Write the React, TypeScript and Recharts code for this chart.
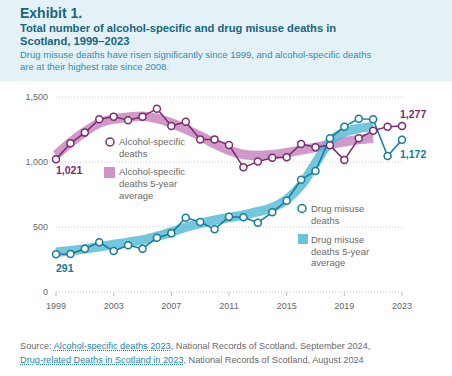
import { LineChart, Line, XAxis, YAxis, CartesianGrid } from "recharts";

const years = [
  1999, 2000, 2001, 2002, 2003, 2004, 2005, 2006, 2007, 2008, 2009, 2010, 2011,
  2012, 2013, 2014, 2015, 2016, 2017, 2018, 2019, 2020, 2021, 2022, 2023,
];
const alcoholDeaths = [
  1021, 1144, 1226, 1328, 1349, 1321, 1349, 1410, 1277, 1310, 1174, 1174, 1131,
  959, 1003, 1033, 1036, 1138, 1113, 1128, 1015, 1182, 1241, 1272, 1277,
];
const drugDeaths = [
  291, 292, 333, 382, 315, 359, 333, 418, 451, 572, 538, 482, 578, 575, 533,
  613, 702, 864, 930, 1182, 1272, 1333, 1328, 1046, 1172,
];
// 5-year averages, read off the band centre (no value for 2022-23)
const alcoholAvg = [
  1054, 1150, 1233, 1300, 1330, 1345, 1352, 1335, 1300, 1252, 1200, 1140, 1090,
  1058, 1050, 1056, 1072, 1092, 1113, 1135, 1156, 1172, 1182, null, null,
];
const drugAvg = [
  305, 318, 332, 348, 366, 382, 400, 428, 462, 498, 528, 552, 572, 592, 618,
  650, 712, 820, 990, 1158, 1228, 1258, 1272, null, null,
];
const yTicks = [0, 500, 1000, 1500];
const xTicks = [1999, 2003, 2007, 2011, 2015, 2019, 2023];

const data = years.map((year, i) => ({
  year,
  alcohol: alcoholDeaths[i],
  drug: drugDeaths[i],
  alcoholAvg: alcoholAvg[i],
  drugAvg: drugAvg[i],
}));

const FONT = '"Liberation Sans", Arial, Helvetica, sans-serif';
const PURPLE = "#7a2a6f";
const TEAL = "#167a99";
const PINK_BAND = "#c67fbc";
const TEAL_BAND = "#4fb9d4";
const fmt = (v: number) => v.toLocaleString("en-GB");

// end labels: first and last value of a series
function endLabel(color: string, first: [number, number], last: [number, number]) {
  return (p: any) => {
    const off = p.index === 0 ? first : p.index === years.length - 1 ? last : null;
    if (!off) return null;
    return (
      <text
        key={p.index}
        x={p.x + off[0]}
        y={p.y + off[1]}
        fill={color}
        fontSize={10.5}
        fontWeight="bold"
        fontFamily={FONT}
      >
        {fmt(p.value)}
      </text>
    );
  };
}

const legendText: React.CSSProperties = {
  position: "absolute",
  fontSize: 9.5,
  lineHeight: "12px",
  color: "#6a6a6a",
};

export default function App() {
  return (
    <div
      style={{
        position: "absolute",
        left: 0,
        top: 0,
        width: 452,
        height: 376,
        background: "#fff",
        fontFamily: FONT,
        overflow: "hidden",
      }}
    >
      <div style={{ position: "absolute", left: 0, top: 0, width: 452, height: 81, background: "#e4f2f7" }} />
      <div style={{ position: "absolute", left: 20, top: 5, fontSize: 14, lineHeight: "16px", fontWeight: "bold", color: "#17657f" }}>
        Exhibit 1.
      </div>
      <div style={{ position: "absolute", left: 20, top: 21.5, width: 420, fontSize: 11.2, lineHeight: "13.5px", fontWeight: "bold", color: "#17657f" }}>
        Total number of alcohol-specific and drug misuse deaths in
        <br />
        Scotland, 1999–2023
      </div>
      <div style={{ position: "absolute", left: 20, top: 49, width: 430, fontSize: 9.5, lineHeight: "11.5px", color: "#2e8db0" }}>
        Drug misuse deaths have risen significantly since 1999, and alcohol-specific deaths
        <br />
        are at their highest rate since 2008.
      </div>

      <div style={{ position: "absolute", left: 0, top: 0 }}>
        <LineChart width={452} height={376} data={data} margin={{ top: 97, right: 50, bottom: 64, left: 16 }}>
          <CartesianGrid vertical={false} stroke="#c9c9c9" strokeDasharray="1 2" />
          <XAxis
            dataKey="year"
            type="number"
            domain={[1999, 2023]}
            ticks={xTicks}
            height={20}
            tickSize={4}
            tickMargin={7}
            axisLine={false}
            tickLine={{ stroke: "#bdbdbd" }}
            tick={{ fill: "#666", fontSize: 9, fontFamily: FONT }}
          />
          <YAxis
            domain={[0, 1500]}
            ticks={yTicks}
            width={40}
            axisLine={false}
            tickLine={false}
            tickFormatter={fmt}
            tick={{ fill: "#666", fontSize: 9, fontFamily: FONT }}
          />
          <Line
            dataKey="alcoholAvg"
            type="monotone"
            stroke={PINK_BAND}
            strokeOpacity={0.8}
            strokeWidth={9.5}
            dot={false}
            activeDot={false}
            connectNulls={false}
            isAnimationActive={false}
          />
          <Line
            dataKey="drugAvg"
            type="monotone"
            stroke={TEAL_BAND}
            strokeOpacity={0.8}
            strokeWidth={9.5}
            dot={false}
            activeDot={false}
            connectNulls={false}
            isAnimationActive={false}
          />
          <Line
            dataKey="alcohol"
            type="linear"
            stroke={PURPLE}
            strokeWidth={1.5}
            dot={{ r: 3.5, fill: "#fff", stroke: PURPLE, strokeWidth: 1.5 }}
            activeDot={false}
            label={endLabel(PURPLE, [0, 15], [-2, -8])}
            isAnimationActive={false}
          />
          <Line
            dataKey="drug"
            type="linear"
            stroke={TEAL}
            strokeWidth={1.5}
            dot={{ r: 3.5, fill: "#fff", stroke: TEAL, strokeWidth: 1.5 }}
            activeDot={false}
            label={endLabel(TEAL, [0, 18], [-2, 18])}
            isAnimationActive={false}
          />
        </LineChart>
      </div>

      {/* legend */}
      <svg style={{ position: "absolute", left: 0, top: 0 }} width={452} height={376} pointerEvents="none">
        <circle cx={110} cy={142} r={4} fill="#fff" stroke={PURPLE} strokeWidth={1.5} />
        <rect x={104} y={167} width={11} height={11} fill={PINK_BAND} opacity={0.85} />
        <circle cx={302} cy={208.5} r={4} fill="#fff" stroke={TEAL} strokeWidth={1.5} />
        <rect x={298} y={234} width={10} height={10} fill={TEAL_BAND} opacity={0.85} />
      </svg>
      <div style={{ ...legendText, left: 119, top: 136 }}>
        Alcohol-specific
        <br />
        deaths
      </div>
      <div style={{ ...legendText, left: 119, top: 166 }}>
        Alcohol-specific
        <br />
        deaths 5-year
        <br />
        average
      </div>
      <div style={{ ...legendText, left: 311, top: 203 }}>
        Drug misuse
        <br />
        deaths
      </div>
      <div style={{ ...legendText, left: 311, top: 234, lineHeight: "11.5px" }}>
        Drug misuse
        <br />
        deaths 5-year
        <br />
        average
      </div>

      <div style={{ position: "absolute", left: 20, top: 339, width: 430, fontSize: 9.2, lineHeight: "14px", color: "#6a6a6a" }}>
        Source:{" "}
        <span style={{ color: "#1f86a8", textDecoration: "underline dotted" }}>Alcohol-specific deaths 2023</span>, National
        Records of Scotland, September 2024,
        <br />
        <span style={{ color: "#1f86a8", textDecoration: "underline dotted" }}>Drug-related Deaths in Scotland in 2023</span>,
        National Records of Scotland, August 2024
      </div>
    </div>
  );
}
